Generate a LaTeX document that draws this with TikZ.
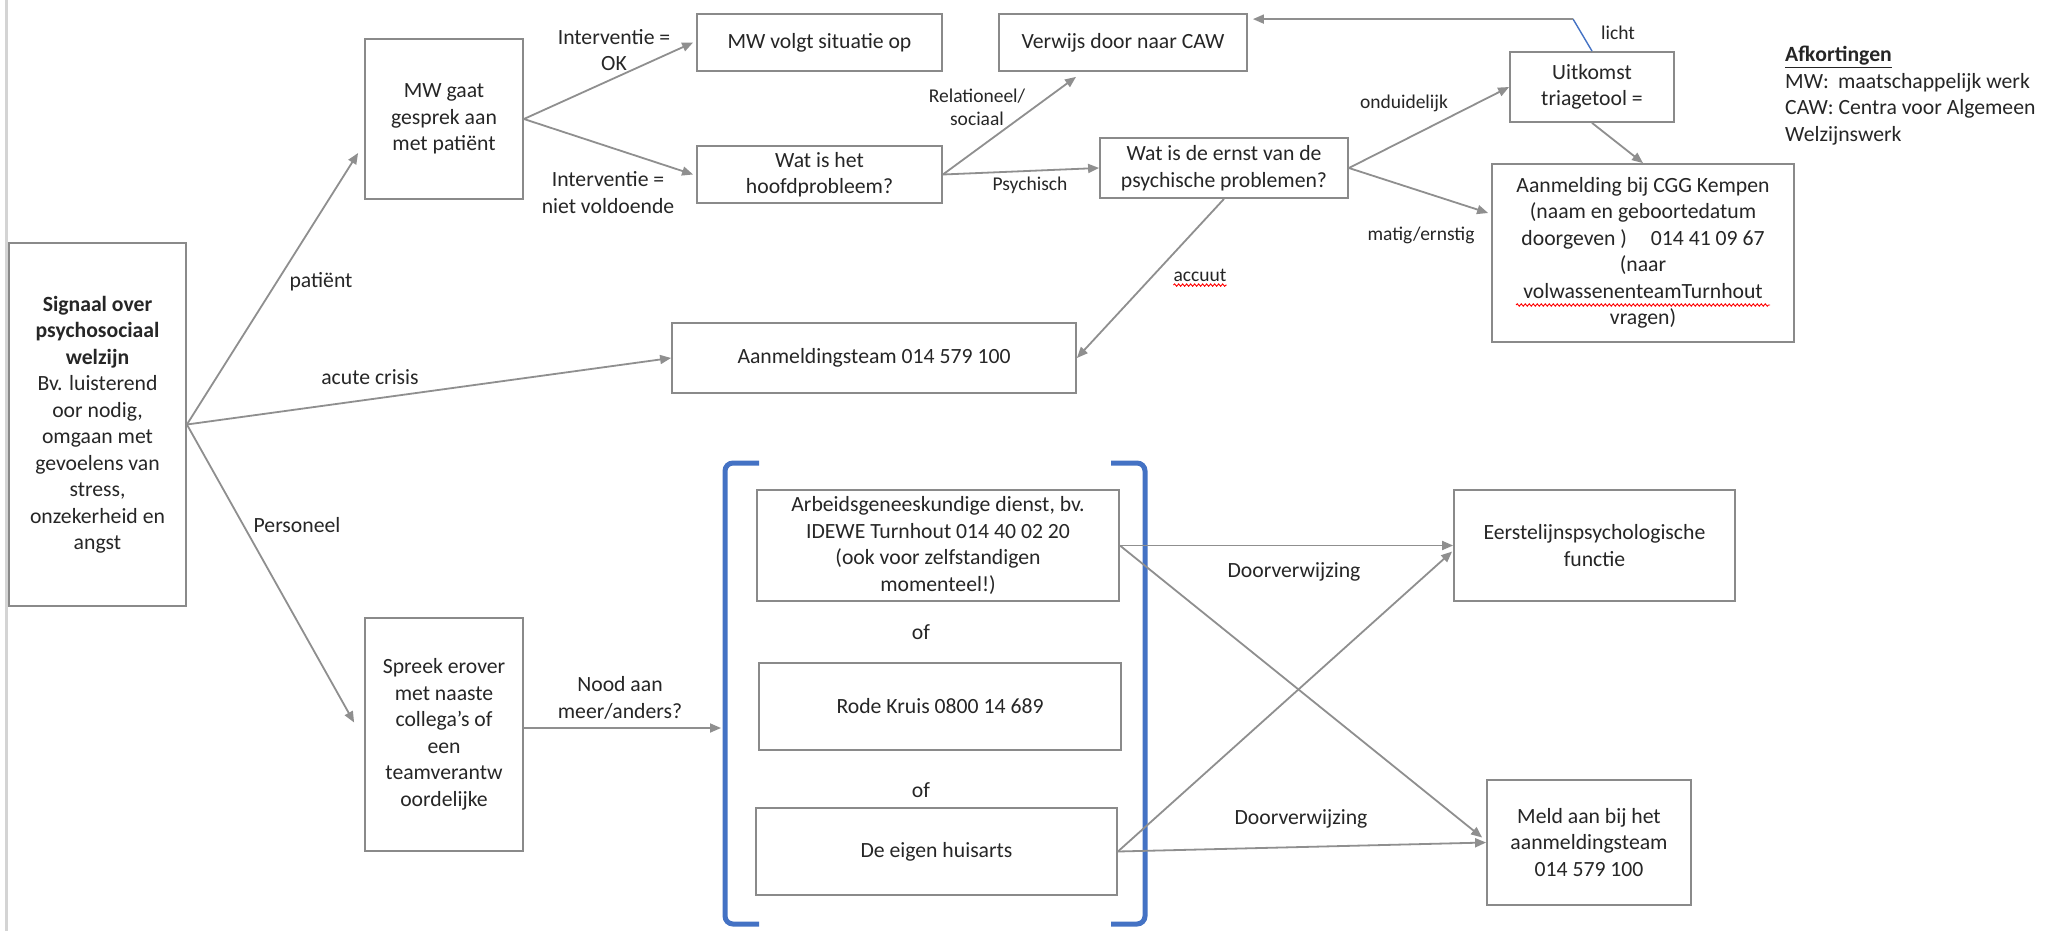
\documentclass[tikz,border=0pt]{standalone}
\usepackage{fontspec}
\setmainfont{Carlito}
\usetikzlibrary{arrows.meta,calc,decorations.pathmorphing}
\definecolor{boxgray}{HTML}{8A8A8A}
\definecolor{linegray}{HTML}{8F8F8F}
\definecolor{txt}{HTML}{262626}
\definecolor{brblue}{HTML}{4472C4}
\definecolor{pagegray}{HTML}{D4D4D4}
\newcommand\myfontA{\fontsize{21.7}{26.5}\selectfont}
\newcommand\myfontB{\fontsize{19.5}{23}\selectfont}
\begin{document}
\begin{tikzpicture}[x=1pt,y=-1pt,
  box/.style={draw=boxgray, line width=1.8pt, align=center, inner sep=0pt, text=txt, font=\myfontA},
  lab/.style={align=center, inner sep=0pt, text=txt, font=\myfontA},
  slab/.style={align=center, inner sep=0pt, text=txt, font=\myfontB},
  arr/.style={draw=linegray, line width=1.8pt, -{Triangle[length=11pt,width=9pt]}},
  brack/.style={draw=brblue, line width=5pt, rounded corners=8pt},
  wavy/.style={draw=red, line width=0.9pt, decorate, decoration={snake, amplitude=1.2pt, segment length=4pt}}]
\fill[white] (0,0) rectangle (2049,931);
\useasboundingbox (0,0) rectangle (2049,931);
\draw[pagegray, line width=3pt] (6,0) -- (6,931);

% boxes
\node[box, minimum width=177pt, minimum height=363pt] (sig) at (97.5,424.5)
  {\textbf{Signaal over}\\\textbf{psychosociaal}\\\textbf{welzijn}\\Bv. luisterend\\oor nodig,\\omgaan met\\gevoelens van\\stress,\\onzekerheid en\\angst};
\node[box, minimum width=158pt, minimum height=160pt] (mw) at (444,119) {MW gaat\\gesprek aan\\met patiënt};
\node[box, minimum width=245pt, minimum height=57pt] (volgt) at (819.5,42.5) {MW volgt situatie op};
\node[box, minimum width=248pt, minimum height=57pt] (caw) at (1123,42.5) {Verwijs door naar CAW};
\node[box, minimum width=245pt, minimum height=57pt] (hoofd) at (819.5,174.5) {Wat is het\\hoofdprobleem?};
\node[box, minimum width=248pt, minimum height=60pt] (ernst) at (1224,168) {Wat is de ernst van de\\psychische problemen?};
\node[box, minimum width=164pt, minimum height=70pt] (uit) at (1592,87) {Uitkomst\\triagetool =};
\node[box, minimum width=302pt, minimum height=178pt] (cgg) at (1643,253)
  {Aanmelding bij CGG Kempen\\(naam en geboortedatum\\doorgeven )\hspace{1.1em}014 41 09 67\\(naar\\volwassenenteamTurnhout\\vragen)};
\node[box, minimum width=404pt, minimum height=70pt] (aanm) at (874,358) {Aanmeldingsteam 014 579 100};
\node[box, minimum width=158pt, minimum height=233pt] (spreek) at (444,734.5)
  {Spreek erover\\met naaste\\collega’s of\\een\\teamverantw\\oordelijke};
\node[box, minimum width=362pt, minimum height=111pt] (arb) at (938,545.5)
  {Arbeidsgeneeskundige dienst, bv.\\IDEWE Turnhout 014 40 02 20\\(ook voor zelfstandigen\\momenteel!)};
\node[box, minimum width=362pt, minimum height=87pt] (rode) at (940,706.5) {Rode Kruis 0800 14 689};
\node[box, minimum width=361pt, minimum height=87pt] (huis) at (936.5,851.5) {De eigen huisarts};
\node[box, minimum width=281pt, minimum height=111pt] (eerst) at (1594.5,545.5) {Eerstelijnspsychologische\\functie};
\node[box, minimum width=204pt, minimum height=125pt] (meld) at (1589,842.5) {Meld aan bij het\\aanmeldingsteam\\014 579 100};

% of labels
\node[lab] (of1) at (921,632) {of};
\node[lab] (of2) at (921,790) {of};

% bracket
\draw[brack] (759,463) -- (725,463) -- (725,924) -- (759,924);
\draw[brack] (1111,463) -- (1145,463) -- (1145,924) -- (1111,924);
\coordinate (brL) at (721,728);

% connector labels
\node[lab] (lok) at (614,50) {Interventie =\\OK};
\node[lab] (lnv) at (608,192.5) {Interventie =\\niet voldoende};
\node[lab] (lpat) at (321,282) {patiënt};
\node[lab] (lac) at (370,377) {acute crisis};
\node[lab] (lpers) at (297,525) {Personeel};
\node[slab] (lrel) at (977,107) {Relationeel/\\sociaal};
\node[slab] (lpsy) at (1030,185) {Psychisch};
\node[slab] (lond) at (1404,103) {onduidelijk};
\node[slab] (lmat) at (1421,235) {matig/ernstig};
\node[slab] (llicht) at (1618,33) {licht};
\node[slab] (acc) at (1200,275) {accuut};
\node[lab] (lnood) at (620,698) {Nood aan\\meer/anders?};
\node[lab] (ld1) at (1294,572) {Doorverwijzing};
\node[lab] (ld2) at (1301,819) {Doorverwijzing};

% abbreviations
\node[lab, align=left, anchor=west] (afk) at (1785,95.5)
  {\textbf{\underline{Afkortingen}}\\MW:\hspace{0.2em} maatschappelijk werk\\CAW: Centra voor Algemeen\\Welzijnswerk};

% connectors
\draw[arr] (sig.east) -- ($(mw.west)+(-6,34)$);
\draw[arr] (sig.east) -- (aanm.west);
\draw[arr] (sig.east) -- ($(spreek.west)+(-10,-12)$);
\draw[arr] (mw.east) -- ($(volgt.west)+(-3,0)$);
\draw[arr] (mw.east) -- ($(hoofd.west)+(-3,0)$);
\draw[arr] (hoofd.east) -- ($(caw.south)+(-47,5)$);
\draw[arr] (hoofd.east) -- (ernst.west);
\draw[arr] (ernst.east) -- (uit.west);
\draw[arr] (ernst.east) -- ($(cgg.west)+(-3,-40)$);
\draw[arr] (uit.south) -- (cgg.north);
\coordinate (kn) at (1573,19);
\draw[draw=brblue, line width=1.4pt] (uit.north) -- (kn);
\draw[arr] (kn) -- ($(caw.north east)+(5,6)$);
\draw[arr] (ernst.south) -- (aanm.east);
\draw[arr] (spreek.east |- brL) -- (brL);
\draw[arr] (arb.east) -- (eerst.west);
\draw[arr] (arb.east) -- ($(meld.west)+(-4,-5)$);
\draw[arr] (huis.east) -- ($(eerst.west)+(-1,6)$);
\draw[arr] (huis.east) -- (meld.west);

% spelling squiggles
\draw[wavy] ($(acc.base west)+(0,4)$) -- ($(acc.base east)+(0,4)$);
\draw[wavy] ($(cgg.center)+(-127,52)$) -- ($(cgg.center)+(127,52)$);
\end{tikzpicture}
\end{document}
